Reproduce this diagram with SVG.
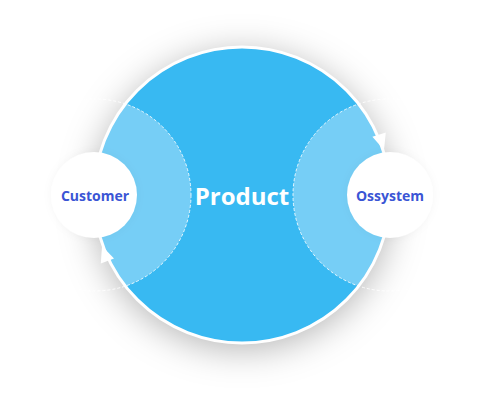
<svg xmlns="http://www.w3.org/2000/svg" width="486" height="400" viewBox="0 0 486 400">
  <defs>
    <filter id="bigShadow" x="-40%" y="-40%" width="180%" height="180%">
      <feDropShadow dx="0" dy="6" stdDeviation="18" flood-color="#000" flood-opacity="0.3"/>
    </filter>
    <filter id="smallShadow" x="-40%" y="-40%" width="180%" height="180%">
      <feDropShadow dx="0" dy="0" stdDeviation="4" flood-color="#000" flood-opacity="0.04"/>
    </filter>
    <clipPath id="bigClip">
      <circle cx="242" cy="195" r="148"/>
    </clipPath>
    <style>
      .lbl { font-family: "Open Sans", "Liberation Sans", sans-serif; font-weight: bold; text-anchor: middle; }
      .side { font-size: 14px; fill: #3A55D5; }
      .dash { fill: none; stroke: #ffffff; stroke-width: 1; stroke-dasharray: 3 2; opacity: 0.85; }
      .light { fill: #76CEF6; }
      .arrowhead { fill: #ffffff; }
    </style>
  </defs>

  <g id="product">
    <circle cx="242" cy="195" r="148" fill="#38B9F2" filter="url(#bigShadow)"/>
    <g clip-path="url(#bigClip)">
      <circle class="light" cx="95" cy="195" r="96"/>
      <circle class="light" cx="389" cy="195" r="96"/>
    </g>
    <circle class="dash" cx="95" cy="195" r="96"/>
    <circle class="dash" cx="389" cy="195" r="96"/>
    <circle cx="242" cy="195" r="148" fill="none" stroke="#ffffff" stroke-width="3"/>
    <text class="lbl" x="242" y="205" font-size="24" fill="#ffffff">Product</text>
  </g>

  <g id="connectors">
    <polygon class="arrowhead" points="102,246 114,258.6 100.8,263.4"/>
    <polygon class="arrowhead" points="384,150 385.8,132.6 372.4,136.8"/>
  </g>

  <g id="customer">
    <circle cx="94" cy="195" r="43" fill="#ffffff" filter="url(#smallShadow)"/>
    <text class="lbl side" x="95" y="201">Customer</text>
  </g>

  <g id="ossystem">
    <circle cx="390" cy="195" r="43" fill="#ffffff" filter="url(#smallShadow)"/>
    <text class="lbl side" x="390" y="201">Ossystem</text>
  </g>
</svg>
